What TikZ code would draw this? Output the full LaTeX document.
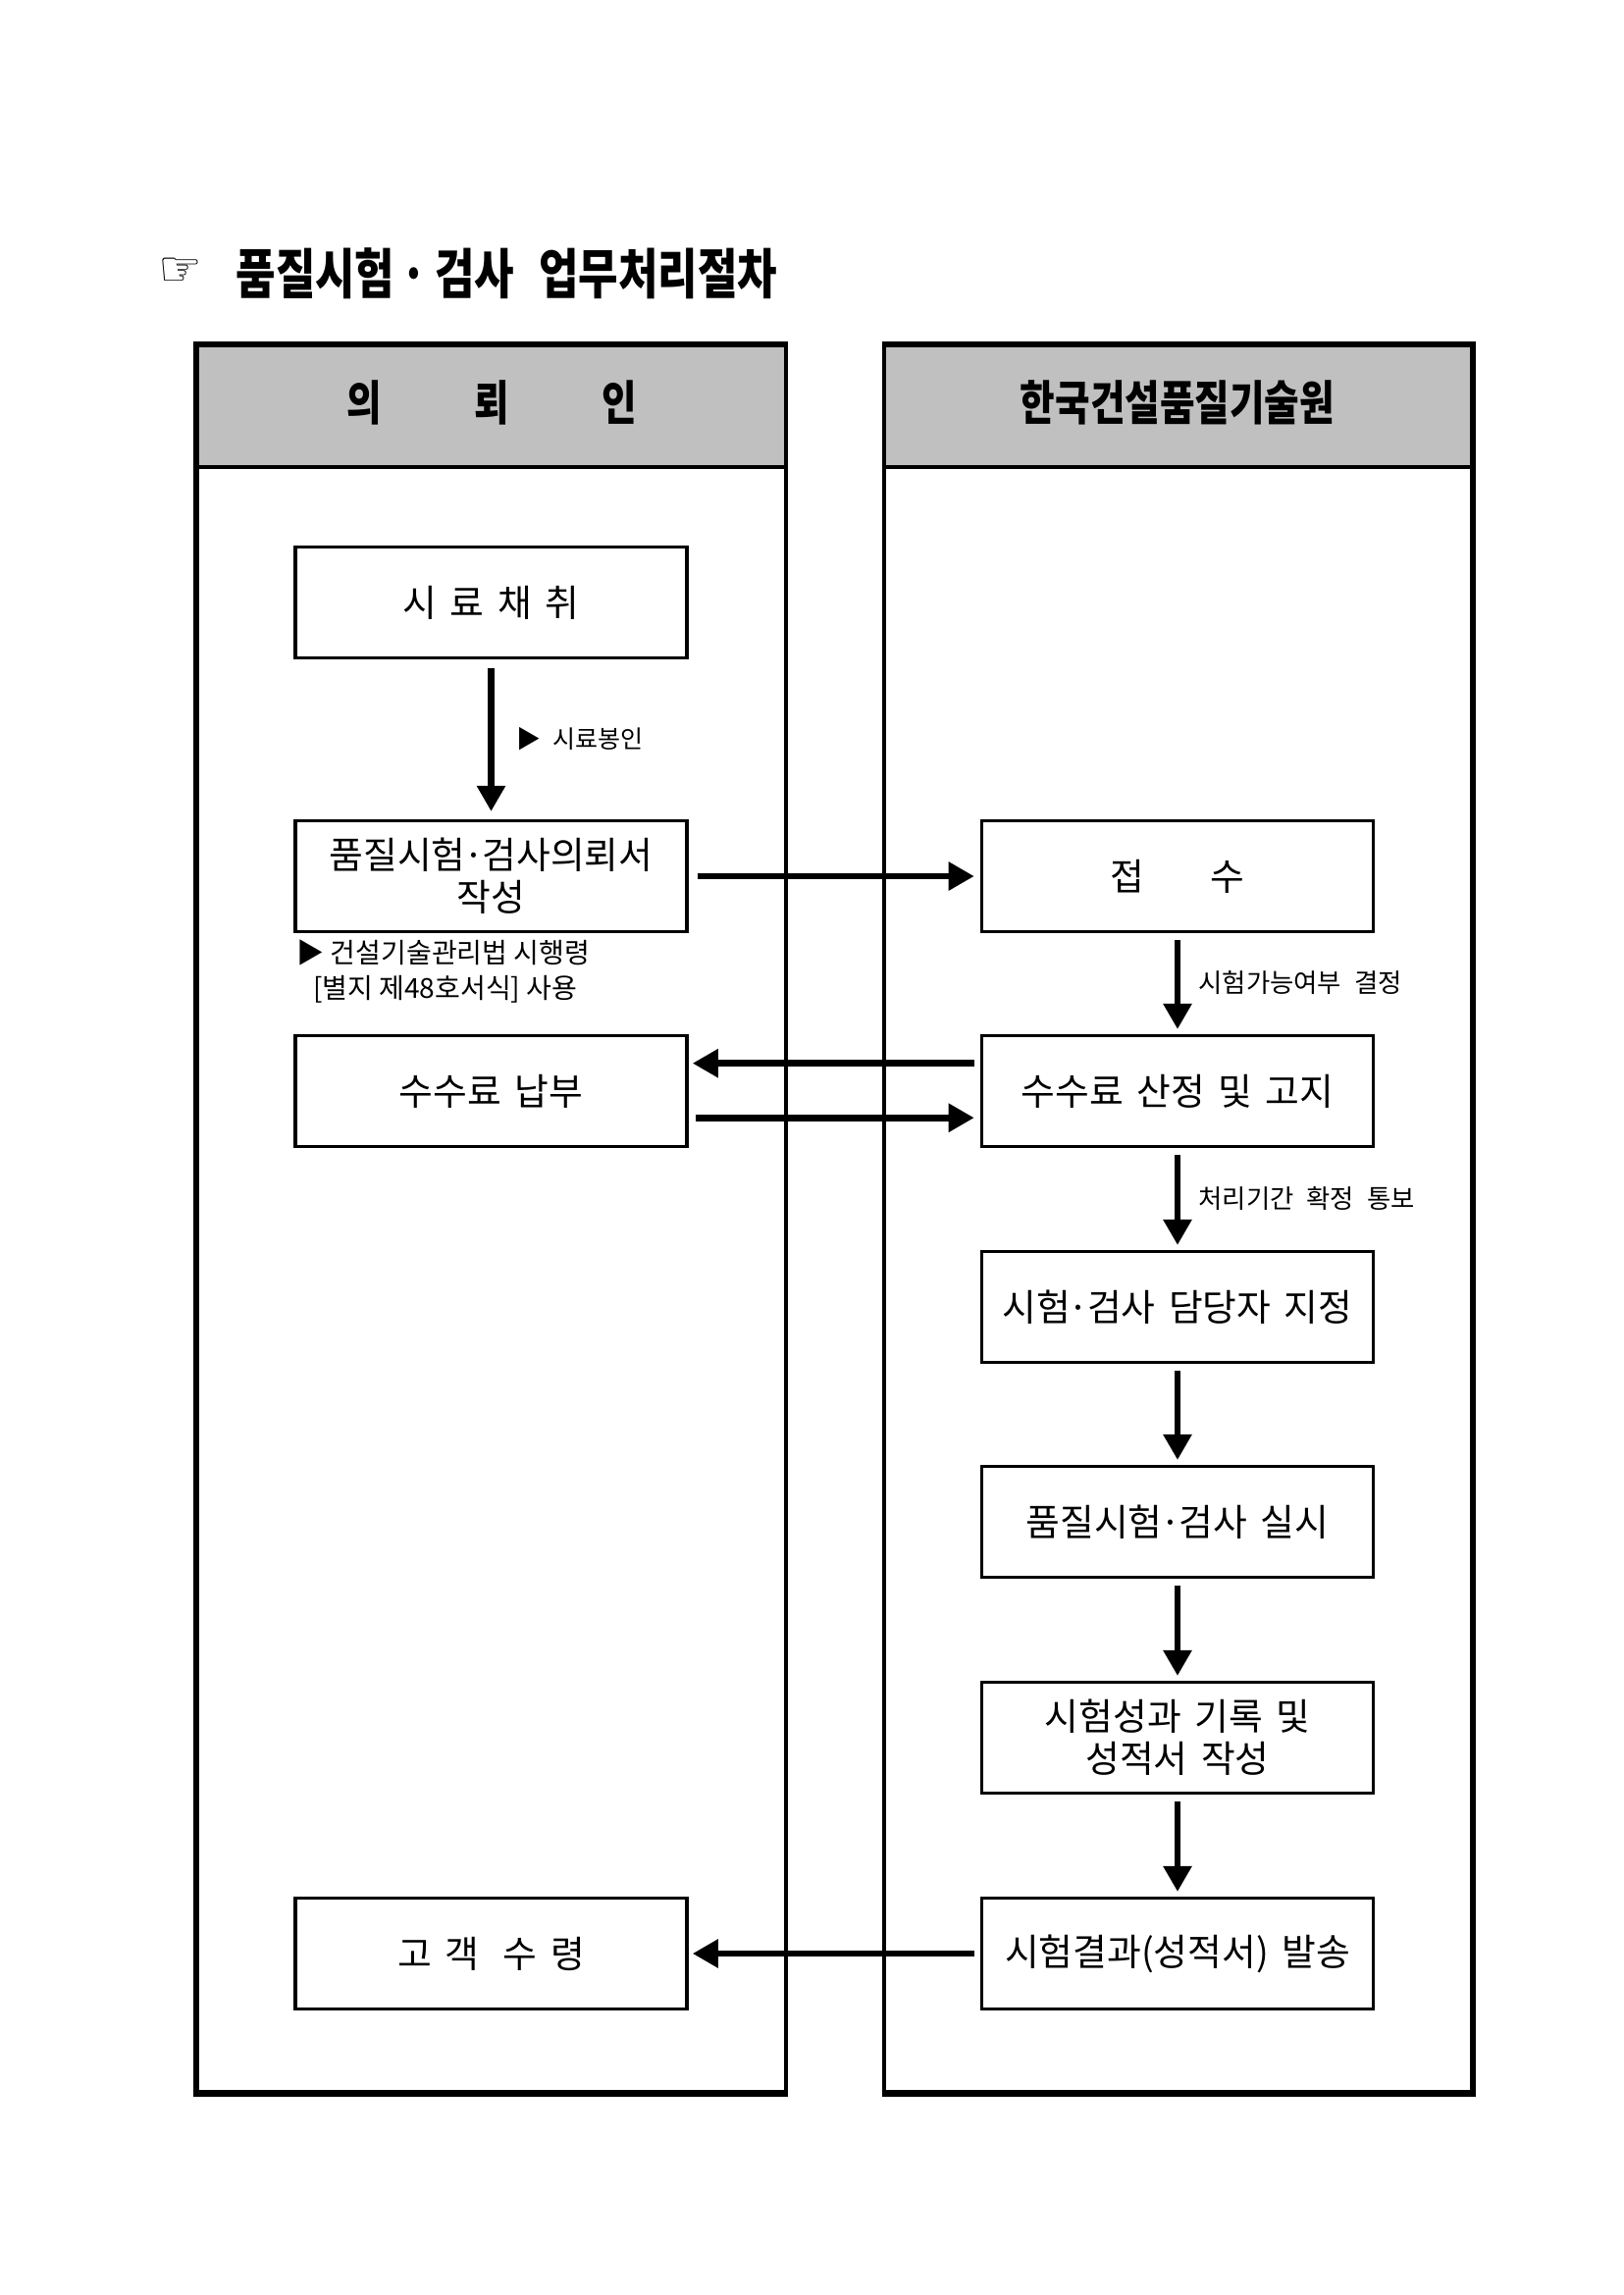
\documentclass[tikz,border=0pt]{standalone}
\usepackage{fontspec}
\usetikzlibrary{arrows.meta}
\newfontfamily\kr{Noto Sans CJK KR}
\newfontfamily\krbox[WordSpace=1.6,Scale=1.0002]{Noto Sans CJK KR}
\newfontfamily\krlab[WordSpace=2.2,Scale=1.0001]{Noto Sans CJK KR}
\newfontfamily\krhead[FakeStretch=0.8]{Noto Sans CJK KR}
\newfontfamily\symf{DejaVu Sans}
\definecolor{hdrgray}{HTML}{C0C0C0}
\newcommand\mdt{\makebox[0.45em]{·}}
\begin{document}
\begin{tikzpicture}[x=0.36pt,y=-0.36pt,
  box/.style={draw,line width=1.2pt,minimum width=143.6pt,minimum height=40.6pt,inner sep=0pt,align=center,font=\krbox\fontsize{13.6}{15.6}\selectfont},
  arr/.style={line width=2.5pt,-{Triangle[length=9.4pt,width=10pt]}},
  lab/.style={anchor=west,inner sep=0pt,font=\krlab\fontsize{9.5}{11}\selectfont},
  colthick/.style={line width=2.3pt},
  colthin/.style={line width=1.4pt},
  head/.style={font=\krhead\bfseries\fontsize{17.4}{19}\selectfont,inner sep=0pt}
]
\useasboundingbox (0,0) rectangle (1654,2339);

% title
\node[inner sep=0pt,font=\symf\fontsize{18}{20}\selectfont] (hand) at (184,277) {☞};
\node[anchor=west,inner sep=0pt,font=\krhead\bfseries\fontsize{19.8}{22}\selectfont] (title) at (240,279) {품질시험\hspace{2pt}·\hspace{3pt}검사\hspace{9pt}업무처리절차};

% columns
\fill[hdrgray] (200,351) rectangle (801,476);
\fill[hdrgray] (901,351) rectangle (1501,476);
\draw[colthin] (200,476) -- (801,476);
\draw[colthin] (901,476) -- (1501,476);
\draw[colthin] (801,351) -- (801,2133.5);
\draw[colthin] (901,351) -- (901,2133.5);
\draw[colthick] (803,351) -- (200,351) -- (200,2133.5) -- (803,2133.5);
\draw[colthick] (899,351) -- (1501,351) -- (1501,2133.5) -- (899,2133.5);

\node[head] (hl) at (501,410) {의\hspace{34pt}뢰\hspace{34pt}인};
\node[head] (hr) at (1200,410) {한국건설품질기술원};

% boxes
\node[box] (a1) at (500.5,614) {시 료 채 취};
\node[box] (a2) at (500.5,893) {품질시험\mdt 검사의뢰서\\작성};
\node[box] (a3) at (500.5,1112) {수수료 납부};
\node[box] (a7) at (500.5,1991) {고 객 \hspace{4pt}수 령};
\node[box] (b2) at (1200,893) {접\hspace{24pt}수};
\node[box] (b3) at (1200,1112) {수수료 산정 및 고지};
\node[box] (b4) at (1200,1332) {시험\mdt 검사 담당자 지정};
\node[box] (b5) at (1200,1551) {품질시험\mdt 검사 실시};
\node[box] (b6) at (1200,1771) {시험성과 기록 및\\성적서 작성};
\node[box] (b7) at (1200,1991) {시험결과(성적서) 발송};

% labels
\node[lab,font=\krlab\fontsize{9}{11}\selectfont] (l1) at (526,753) {▶ 시료봉인};
\node[lab] (l2) at (1221,1002) {시험가능여부 결정};
\node[lab] (l3) at (1221,1222) {처리기간 확정 통보};
\node[anchor=west,inner sep=0pt,align=left,font=\kr\fontsize{10.1}{12.8}\selectfont] (n1) at (302,990) {▶ 건설기술관리법 시행령\\\hspace*{6pt}[별지 제48호서식] 사용};

% arrows
\draw[arr] ([yshift=-3.2pt]a1.south) -- ([yshift=2.9pt]a2.north);
\draw[arr] ([xshift=3.2pt]a2.east) -- ([xshift=-2.2pt]b2.west);
\draw[arr] ([yshift=-2.5pt]b2.south) -- ([yshift=1.8pt]b3.north);
\draw[arr] ([xshift=-2.2pt,yshift=10.2pt]b3.west) -- ([xshift=1.5pt,yshift=10.2pt]a3.east);
\draw[arr] ([xshift=2.5pt,yshift=-9.8pt]a3.east) -- ([xshift=-2.2pt,yshift=-9.8pt]b3.west);
\draw[arr] ([yshift=-2.5pt]b3.south) -- ([yshift=1.8pt]b4.north);
\draw[arr] ([yshift=-2.5pt]b4.south) -- ([yshift=1.8pt]b5.north);
\draw[arr] ([yshift=-2.5pt]b5.south) -- ([yshift=1.8pt]b6.north);
\draw[arr] ([yshift=-2.5pt]b6.south) -- ([yshift=1.8pt]b7.north);
\draw[arr] ([xshift=-2.2pt]b7.west) -- ([xshift=1.5pt]a7.east);
\end{tikzpicture}
\end{document}
